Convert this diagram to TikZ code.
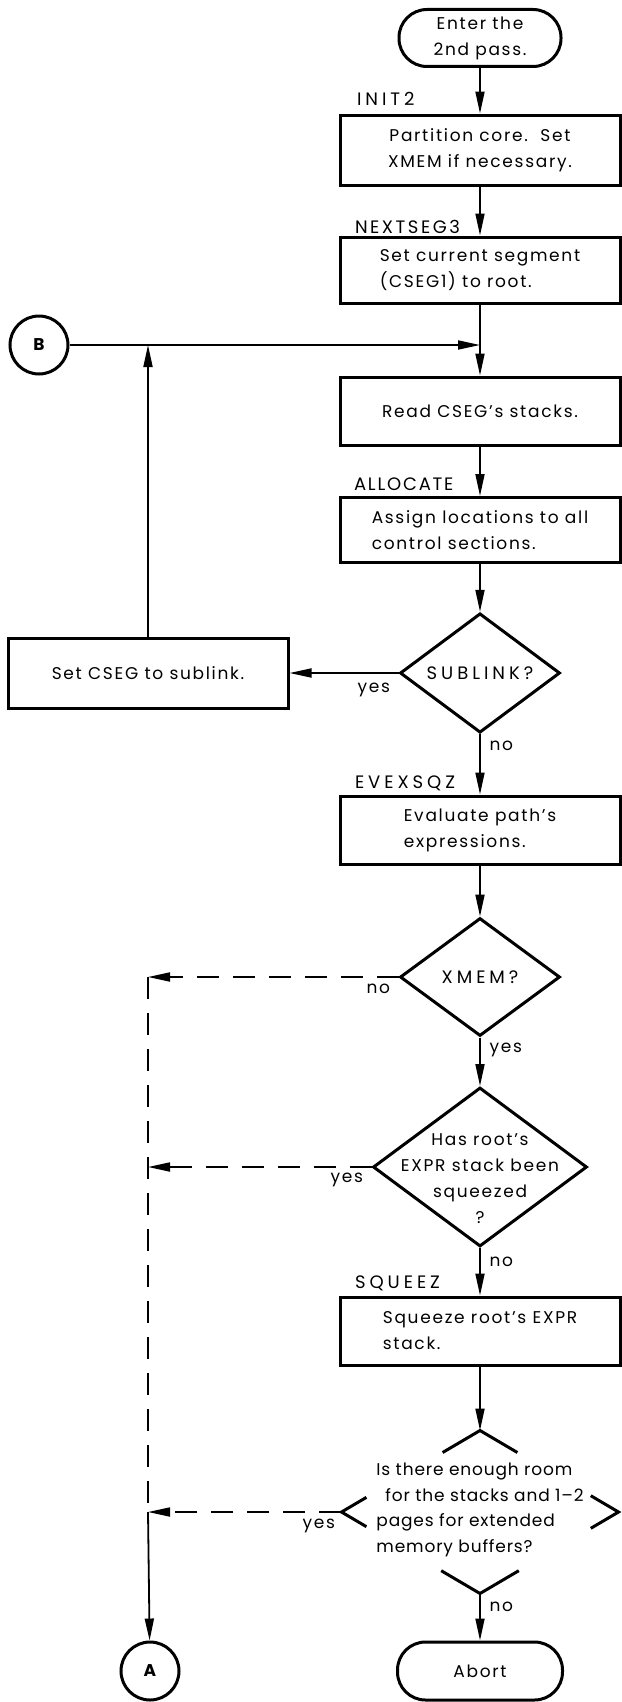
\documentclass[tikz,border=0pt]{standalone}
\usepackage{fontspec}
\setmainfont{Poppins}[LetterSpace=10]
\usetikzlibrary{positioning, arrows.meta, shapes.geometric, calc}

\begin{document}
\begin{tikzpicture}[x=1pt, y=1pt,
    every node/.style={font=\fontsize{17}{26}\selectfont},
    capsfont/.style={font=\fontsize{18}{26}\selectfont\addfontfeatures{LetterSpace=#1}},
    capsfont/.default=22,
    procbox/.style={draw, line width=3pt, rectangle, minimum width=280pt, minimum height=68pt, inner sep=0pt},
    termbox/.style={draw, line width=3pt, rectangle, rounded corners=28pt, minimum width=162pt, minimum height=57pt, inner sep=0pt, align=center},
    decide/.style={draw, line width=3pt, diamond, inner sep=0pt},
    connector/.style={draw, line width=3pt, circle, minimum size=58pt, inner sep=0pt, font=\fontsize{17}{20}\selectfont\bfseries},
    tag/.style={capsfont=#1, anchor=base west},
    tag/.default=22,
    leftlbl/.style={anchor=base east},
    downlbl/.style={anchor=base west},
    flow/.style={line width=1.8pt, -{Triangle[length=22pt, width=9pt]}},
    dashflow/.style={flow, dash pattern=on 22pt off 14pt},
    dashline/.style={line width=1.8pt, dash pattern=on 22pt off 14pt}]
  \useasboundingbox (0,0) rectangle (621,-1702);

  \node[termbox] (start) at (480,-38) {Enter the\\2nd pass.};
  \node[procbox, minimum height=70pt, align=center] (init) at (480,-150) {Partition core.~~Set\\XMEM if necessary.};
  \node[procbox, minimum height=66pt, align=left] (nextseg) at (480,-270) {Set current segment\\(CSEG1) to root.};
  \node[connector] (B) at (39,-345) {B};
  \node[procbox] (read) at (480,-411) {Read CSEG's stacks.};
  \node[procbox, minimum height=65pt, align=left] (alloc) at (480,-530) {Assign locations to all\\control sections.};
  \node[decide, capsfont, minimum width=160pt, minimum height=117pt] (sublink) at (480,-673) {SUBLINK?};
  \node[procbox, minimum height=70pt] (setcseg) at (148,-673) {Set CSEG to sublink.};
  \node[procbox, align=left] (evexsqz) at (480,-830) {Evaluate path's\\expressions.};
  \node[decide, capsfont, minimum width=160pt, minimum height=118pt] (xmem) at (480,-977) {XMEM?};
  \node[decide, minimum width=214pt, minimum height=159pt] (has) at (480,-1167) {};
  \node[align=center] (hastext) at ([yshift=-12pt]has.center) {Has root's\\EXPR stack been\\squeezed\\?};
  \node[procbox, align=left] (squeez) at (480,-1331) {Squeeze root's EXPR\\stack.};
  \node[decide, draw=none, minimum width=274pt, minimum height=160pt] (room) at (480,-1512) {};
  \node[align=left, font=\fontsize{17}{25.5}\selectfont\addfontfeatures{LetterSpace=5}] (roomtext) at ([xshift=0pt,yshift=2pt]room.center) {Is there enough room\\\hspace*{9pt}for the stacks and 1--2\\pages for extended\\memory buffers?};
  \node[termbox, minimum width=165pt, minimum height=58pt] (abort) at (480,-1671) {Abort};
  \node[connector] (A) at (150,-1671) {A};

  \node[tag] (tagInit) at ([xshift=15pt,yshift=8pt]init.north west) {INIT2};
  \node[tag=14] (tagNext) at ([xshift=13pt,yshift=2pt]nextseg.north west) {NEXTSEG3};
  \node[tag=10] (tagAlloc) at ([xshift=12pt,yshift=6pt]alloc.north west) {ALLOCATE};
  \node[tag] (tagEvex) at ([xshift=13pt,yshift=6pt]evexsqz.north west) {EVEXSQZ};
  \node[tag] (tagSqueez) at ([xshift=13pt,yshift=7pt]squeez.north west) {SQUEEZ};

  \node[leftlbl] (yesSub) at ([xshift=-5pt,yshift=-19pt]sublink.west) {yes};
  \node[downlbl] (noSub) at ([xshift=6pt,yshift=-16pt]sublink.south) {no};
  \node[leftlbl] (noXmem) at ([xshift=-5pt,yshift=-16pt]xmem.west) {no};
  \node[downlbl] (yesXmem) at ([xshift=6pt,yshift=-15pt]xmem.south) {yes};
  \node[leftlbl] (yesHas) at ([xshift=-5pt,yshift=-15pt]has.west) {yes};
  \node[downlbl] (noHas) at ([xshift=6pt,yshift=-18pt]has.south) {no};
  \node[leftlbl] (yesRoom) at ([xshift=-3pt,yshift=-16pt]room.west) {yes};
  \node[downlbl] (noRoom) at ([xshift=6pt,yshift=-18pt]room.south) {no};

  \draw[line width=3pt] ($(room.north)!0.27!(room.west)$) -- (room.north) -- ($(room.north)!0.27!(room.east)$);
  \draw[line width=3pt] ($(room.west)!0.18!(room.north)$) -- (room.west) -- ($(room.west)!0.18!(room.south)$);
  \draw[line width=3pt] ($(room.east)!0.2!(room.north)$) -- (room.east) -- ($(room.east)!0.2!(room.south)$);
  \draw[line width=3pt] ($(room.south)!0.28!(room.west)$) -- (room.south) -- ($(room.south)!0.28!(room.east)$);

  \coordinate (joinB) at (480,-345);
  \coordinate (loopB) at (148,-345);
  \coordinate (cornerA) at (148,-977);
  \coordinate (joinHas) at (148,-1167);
  \coordinate (joinRoom) at (148,-1512);

  \draw[flow] (start) -- (init);
  \draw[flow] (init) -- (nextseg);
  \draw[line width=1.8pt] (nextseg) -- (joinB);
  \draw[flow] (B) -- (joinB);
  \draw[flow] (joinB) -- (read);
  \draw[flow] (read) -- (alloc);
  \draw[flow] (alloc) -- (sublink);
  \draw[flow] (sublink) -- (setcseg);
  \draw[flow] (setcseg) -- (loopB);
  \draw[flow] (sublink) -- (evexsqz);
  \draw[flow] (evexsqz) -- (xmem);
  \draw[flow] (xmem) -- (has);
  \draw[flow] (has) -- (squeez);
  \draw[flow] (squeez) -- (room);
  \draw[flow] (room) -- (abort);
  \draw[dashflow] (xmem) -- (cornerA);
  \draw[dashflow] (has) -- (joinHas);
  \draw[dashflow] (room) -- (joinRoom);
  \draw[dashline] (cornerA) -- (joinRoom);
  \draw[flow] (joinRoom) -- (A);
\end{tikzpicture}
\end{document}
